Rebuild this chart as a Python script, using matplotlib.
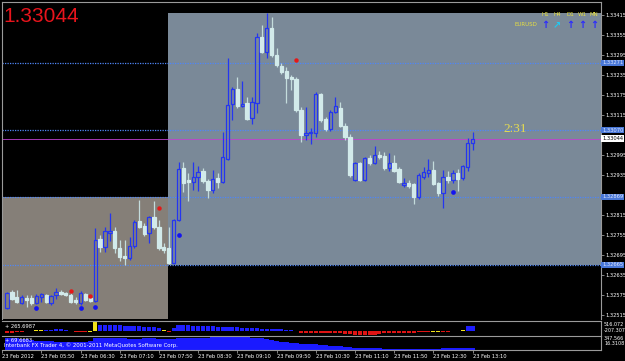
import matplotlib
matplotlib.use("Agg")
import matplotlib.pyplot as plt
from matplotlib.patches import Rectangle

# EURUSD M5, 23 Feb 2012 05:15 .. 13:10 (bar index 0..95)
opens = [1.32536, 1.32584, 1.32569, 1.32551, 1.32566, 1.32566, 1.32551, 1.32569, 1.32575, 1.32551,
         1.32575, 1.32584, 1.32581, 1.32575, 1.32560, 1.32551, 1.32578, 1.32566, 1.32557, 1.32743,
         1.32719, 1.32761, 1.32767, 1.32716, 1.32692, 1.32686, 1.32722, 1.32797, 1.32782, 1.32761,
         1.32809, 1.32779, 1.32719, 1.32716, 1.32671, 1.32800, 1.32956, 1.32920, 1.32914, 1.32929,
         1.32947, 1.32917, 1.32890, 1.32926, 1.32914, 1.32983, 1.33148, 1.33193, 1.33142, 1.33151,
         1.33106, 1.33151, 1.33349, 1.33304, 1.33376, 1.33295, 1.33262, 1.33247, 1.33229, 1.33223,
         1.33130, 1.33055, 1.33061, 1.33061, 1.33178, 1.33103, 1.33073, 1.33124, 1.33136, 1.33082,
         1.33049, 1.32920, 1.32971, 1.32920, 1.32986, 1.32971, 1.32995, 1.32992, 1.32956, 1.32971,
         1.32953, 1.32905, 1.32911, 1.32908, 1.32869, 1.32929, 1.32941, 1.32950, 1.32911, 1.32881,
         1.32929, 1.32920, 1.32941, 1.32926, 1.32959, 1.33031]
highs = [1.32584, 1.32590, 1.32590, 1.32575, 1.32575, 1.32575, 1.32578, 1.32581, 1.32578, 1.32575,
         1.32596, 1.32590, 1.32584, 1.32581, 1.32569, 1.32587, 1.32581, 1.32569, 1.32776, 1.32755,
         1.32779, 1.32821, 1.32779, 1.32740, 1.32740, 1.32749, 1.32800, 1.32860, 1.32791, 1.32812,
         1.32857, 1.32800, 1.32731, 1.32779, 1.32803, 1.32974, 1.32974, 1.32941, 1.32974, 1.32962,
         1.32956, 1.32923, 1.32950, 1.32941, 1.33064, 1.33286, 1.33199, 1.33229, 1.33217, 1.33169,
         1.33169, 1.33361, 1.33385, 1.33421, 1.33409, 1.33316, 1.33271, 1.33259, 1.33235, 1.33229,
         1.33139, 1.33139, 1.33076, 1.33184, 1.33181, 1.33109, 1.33130, 1.33169, 1.33154, 1.33091,
         1.33058, 1.32974, 1.32974, 1.32989, 1.32995, 1.33022, 1.33007, 1.33004, 1.33001, 1.32995,
         1.32959, 1.32926, 1.32920, 1.32911, 1.32941, 1.32959, 1.32983, 1.32977, 1.32914, 1.32950,
         1.32947, 1.32950, 1.32953, 1.32965, 1.33046, 1.33064]
lows = [1.32533, 1.32560, 1.32551, 1.32548, 1.32539, 1.32545, 1.32548, 1.32554, 1.32551, 1.32545,
        1.32563, 1.32575, 1.32572, 1.32551, 1.32548, 1.32545, 1.32557, 1.32554, 1.32554, 1.32704,
        1.32704, 1.32737, 1.32701, 1.32677, 1.32665, 1.32680, 1.32716, 1.32776, 1.32752, 1.32731,
        1.32773, 1.32710, 1.32701, 1.32668, 1.32668, 1.32797, 1.32884, 1.32857, 1.32890, 1.32887,
        1.32911, 1.32866, 1.32881, 1.32896, 1.32911, 1.32980, 1.33100, 1.33136, 1.33139, 1.33100,
        1.33088, 1.33121, 1.33301, 1.33286, 1.33289, 1.33259, 1.33238, 1.33151, 1.33190, 1.33124,
        1.33034, 1.33040, 1.33028, 1.33049, 1.33094, 1.33067, 1.33067, 1.33121, 1.33079, 1.33040,
        1.32929, 1.32917, 1.32917, 1.32917, 1.32965, 1.32968, 1.32983, 1.32950, 1.32947, 1.32944,
        1.32911, 1.32899, 1.32896, 1.32848, 1.32863, 1.32923, 1.32929, 1.32905, 1.32872, 1.32836,
        1.32911, 1.32911, 1.32887, 1.32920, 1.32947, 1.33010]
closes = [1.32581, 1.32563, 1.32554, 1.32569, 1.32560, 1.32551, 1.32572, 1.32578, 1.32554, 1.32572,
          1.32584, 1.32578, 1.32575, 1.32554, 1.32554, 1.32581, 1.32560, 1.32557, 1.32740, 1.32719,
          1.32767, 1.32767, 1.32716, 1.32689, 1.32686, 1.32722, 1.32794, 1.32779, 1.32758, 1.32809,
          1.32779, 1.32716, 1.32710, 1.32671, 1.32800, 1.32953, 1.32911, 1.32914, 1.32929, 1.32944,
          1.32917, 1.32890, 1.32923, 1.32914, 1.32989, 1.33145, 1.33193, 1.33142, 1.33148, 1.33103,
          1.33154, 1.33349, 1.33304, 1.33376, 1.33295, 1.33265, 1.33244, 1.33226, 1.33223, 1.33130,
          1.33055, 1.33061, 1.33064, 1.33178, 1.33100, 1.33073, 1.33124, 1.33142, 1.33082, 1.33049,
          1.32935, 1.32971, 1.32920, 1.32986, 1.32971, 1.32995, 1.32989, 1.32956, 1.32971, 1.32947,
          1.32914, 1.32911, 1.32902, 1.32869, 1.32935, 1.32944, 1.32950, 1.32908, 1.32881, 1.32929,
          1.32920, 1.32941, 1.32923, 1.32962, 1.33031, 1.33044]

# fractal-style dots
red_dot_bars = [13, 17, 31, 59]
red_dot_prices = [1.32587, 1.32572, 1.32836, 1.33280]
blue_dot_bars = [6, 15, 18, 35, 91]
blue_dot_prices = [1.32536, 1.32536, 1.32539, 1.32755, 1.32884]

# horizontal levels and the two session boxes
levels = [1.33271, 1.33070, 1.32869, 1.32665]
last_price = 1.33044
box_left = (-1.1, 32.86, 1.32500, 1.32869)
box_right = (32.86, 122.0, 1.32665, 1.33421)

price_ticks = [1.33415, 1.33355, 1.33295, 1.33235, 1.33175, 1.33115, 1.32995,
               1.32935, 1.32815, 1.32755, 1.32695, 1.32635, 1.32575, 1.32515]

# indicator 1 histogram (value, colour code)
ind1 = [-80, -80, -20, -15, -10, 10, 40, 40, 60, 80, 100, 90, 70, 30, -60, -60, -20, -60,
        516, 320, 310, 300, 290, 280, 270, 260, 250, 240, 220, 200, 180, 160, 40, -40,
        150, 280, 290, 280, 270, 260, 250, 240, 230, 220, 210, 200, 190, 180, 170, 160,
        150, 140, 130, 120, 110, 100, 90, 80, 60, 30, -80, -85, -90, -90, -95, -100, -100,
        -100, -110, -120, -150, -180, -200, -200, -190, -170, -150, -100, -90, -90, -80,
        -80, -70, -70, -60, -60, -40, -30, -30, -40, -20, 10, 30, 60, 266, 265.6987]
ind1_codes = "rrrrrbyybbbbbyrrryy" + "b" * 13 + "yr" + "b" * 25 + "y" + "r" * 27 + "yyrryyybb"

# indicator 2 area
ind2 = [290, 300, 295, 280, 270, 260,
        230, 225, 220, 220, 215, 210, 210, 205, 200, 200, 210, 230,
        300, 310, 305, 300, 300, 295, 290, 285, 280, 285, 290, 295, 290, 285, 280, 270, 270, 290, 300, 300,
        300, 295, 300, 310, 320, 330, 340, 345, 340, 335, 330, 320, 310,
        300, 290, 270, 250, 230, 210, 200, 190, 180, 170,
        165, 160, 150, 140, 130, 120, 110, 100, 90, 80,
        70, 65, 60, 60, 55, 55, 50, 50, 50, 45, 45, 45, 50, 50, 50, 50, 50, 50, 55, 55, 55, 60, 60,
        70, 69.6683]

time_ticks = [-1, 7, 15, 23, 31, 39, 47, 55, 63, 71, 79, 87, 95]
time_labels = ["23 Feb 2012", "23 Feb 05:50", "23 Feb 06:30", "23 Feb 07:10", "23 Feb 07:50",
               "23 Feb 08:30", "23 Feb 09:10", "23 Feb 09:50", "23 Feb 10:30", "23 Feb 11:10",
               "23 Feb 11:50", "23 Feb 12:30", "23 Feb 13:10"]

W, H = 625, 361
GRID = "#9a9a9a"
BULL = "#2436f0"
BEAR = "#d2eaea"
HIST_COLORS = {"r": "#e01414", "b": "#1e1eff", "y": "#f2e21a"}
SMALL = 3.7

plt.rcParams["font.family"] = ["DejaVu Sans"]


def box(x0, y0, x1, y1):
    return [x0 / W, 1 - y1 / H, (x1 - x0) / W, (y1 - y0) / H]


def ftext(x, y, s, **kw):
    fig.text(x / W, 1 - y / H, s, **kw)


fig = plt.figure(figsize=(W / 100, H / 100), dpi=100, facecolor="black")

xlim = (-1.02, 121.22)

# ---- main price window
ax = fig.add_axes(box(2, 2, 601, 319))
ax.set_facecolor("black")
ax.set_xlim(*xlim)
ax.set_ylim(1.32503, 1.33454)

for (x0, x1, y0, y1), col in [(box_left, "#857f78"), (box_right, "#7a8998")]:
    ax.add_patch(Rectangle((x0, y0), x1 - x0, y1 - y0, facecolor=col, edgecolor="none", zorder=0))

for lv in levels:
    ax.axhline(lv, color="#4f86f7", lw=0.9, ls=(0, (1, 1)), zorder=1)
ax.axhline(last_price, color="#c040d0", lw=0.6, zorder=1)

for i, (o, h, l, c) in enumerate(zip(opens, highs, lows, closes)):
    top, bot = max(o, c), min(o, c)
    if c >= o:
        ax.vlines(i, top, h, color=BULL, lw=0.9, zorder=3)
        ax.vlines(i, l, bot, color=BULL, lw=0.9, zorder=3)
        ax.add_patch(Rectangle((i - 0.33, bot), 0.66, max(top - bot, 0.000012),
                               facecolor="none", edgecolor=BULL, lw=0.9, zorder=3))
    else:
        ax.vlines(i, l, h, color="#c4dcdc", lw=0.9, zorder=2)
        ax.add_patch(Rectangle((i - 0.33, bot), 0.66, max(top - bot, 0.000012),
                               facecolor=BEAR, edgecolor=BEAR, lw=0.9, zorder=3))

ax.plot(red_dot_bars, red_dot_prices, "o", color="#e41818", ms=3.2, mec="none", zorder=4)
ax.plot(blue_dot_bars, blue_dot_prices, "o", color="#1414f0", ms=3.4, mec="none", zorder=4)

ax.yaxis.tick_right()
ax.set_yticks(price_ticks)
ax.set_yticklabels([f"{p:.5f}" for p in price_ticks])
ax.tick_params(axis="y", colors=GRID, labelcolor="white", labelsize=SMALL, length=2, pad=1, width=0.6)
ax.set_xticks([])
for side in ["left", "top", "right"]:
    ax.spines[side].set_color(GRID)
    ax.spines[side].set_linewidth(0.8)
ax.spines["bottom"].set_visible(False)

ytr = ax.get_yaxis_transform()
for lv in levels:
    ax.text(1.002, lv, f"{lv:.5f}", transform=ytr, fontsize=SMALL, color="#dce6ff", va="center",
            ha="left", bbox=dict(boxstyle="square,pad=0.15", fc="#4a78d8", ec="none"), clip_on=False)
ax.text(1.002, last_price, f"{last_price:.5f}", transform=ytr, fontsize=SMALL, color="black",
        va="center", ha="left", bbox=dict(boxstyle="square,pad=0.15", fc="white", ec="none"), clip_on=False)

# ---- indicator 1
ax1 = fig.add_axes(box(2, 320.5, 601, 335.5))
ax1.set_facecolor("black")
ax1.set_xlim(*xlim)
ax1.set_ylim(-207.307, 516.072)
ax1.bar(range(len(ind1)), ind1, width=0.85, color=[HIST_COLORS[k] for k in ind1_codes], zorder=2)
ax1.set_xticks([])
ax1.set_yticks([])
for sp in ax1.spines.values():
    sp.set_color(GRID)
    sp.set_linewidth(0.8)
ax1.spines["bottom"].set_visible(False)
ax1.spines["left"].set_visible(False)

# ---- indicator 2
ax2 = fig.add_axes(box(2, 336, 601, 350))
ax2.set_facecolor("black")
ax2.set_xlim(*xlim)
ax2.set_ylim(16.3108, 347.566)
ax2.bar(range(len(ind2)), [v - 16.3108 for v in ind2], bottom=16.3108, width=1.0,
        color="#1a1aff", zorder=2)
ax2.set_yticks([])
ax2.set_xticks(time_ticks)
ax2.set_xticklabels(time_labels)
ax2.tick_params(axis="x", colors=GRID, labelcolor="white", labelsize=SMALL, length=2, pad=1, width=0.6)
for lbl in ax2.get_xticklabels():
    lbl.set_ha("left")
for sp in ax2.spines.values():
    sp.set_color(GRID)
    sp.set_linewidth(0.8)
ax2.spines["left"].set_visible(False)

# ---- texts
ftext(3, 16.5, "1.33044", color="#e8141c", fontsize=15, family="Liberation Sans", va="center")
ftext(515, 129, "2:31", color="#e6dc50", fontsize=9.5, family="Liberation Serif", va="center", ha="center")

for x, tf in zip([545, 557, 570, 582, 594], ["H1", "H4", "D1", "W1", "MN"]):
    ftext(x, 15, tf, color="#e8e040", fontsize=4, ha="center", va="center")
    if tf == "H4":
        ftext(x, 25, "\u2197", color="#20c8f0", fontsize=7, fontweight="bold", ha="center", va="center")
    else:
        ftext(x, 25, "\u2191", color="#2a2aff", fontsize=7, fontweight="bold", ha="center", va="center")
ftext(526, 25, "EURUSD", color="#e8e040", fontsize=4, ha="center", va="center")

ftext(5, 327, "+ 265.6987", color="white", fontsize=SMALL, va="center")
ftext(5, 341, "+ 69.6683", color="white", fontsize=SMALL, va="center")
ftext(4, 345.5, "Interbank FX Trader 4, \u00a9 2001-2011 MetaQuotes Software Corp.",
      color="white", fontsize=3.9, va="center")
ftext(604, 325, "516.072", color="white", fontsize=3.5, va="center")
ftext(604, 330, "-207.307", color="white", fontsize=3.5, va="center")
ftext(604, 339, "347.566", color="white", fontsize=3.5, va="center")
ftext(604, 343.5, "16.3108", color="white", fontsize=3.5, va="center")

fig.savefig("out.png", dpi=100, facecolor="black")
